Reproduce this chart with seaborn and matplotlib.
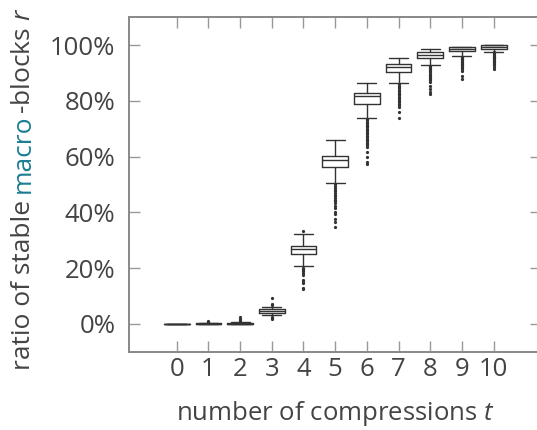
import matplotlib
matplotlib.use("Agg")
import matplotlib.pyplot as plt
from matplotlib.ticker import PercentFormatter
import seaborn as sns

# number of compressions t
steps = [0, 1, 2, 3, 4, 5, 6, 7, 8, 9, 10]

# box statistics (percent of stable macro-blocks)
medians = [0.0, 0.0, 0.1, 4.6, 26.8, 58.9, 81.6, 92.1, 96.6, 98.7, 99.4]
q1 = [0.0, 0.0, 0.0, 3.9, 25.2, 56.3, 79.0, 90.3, 95.5, 97.8, 98.7]
q3 = [0.0, 0.2, 0.3, 5.3, 28.1, 60.2, 82.8, 93.3, 97.5, 99.2, 99.9]
whislo = [0.0, 0.0, 0.0, 3.0, 20.7, 50.5, 74.0, 86.5, 93.0, 96.1, 97.7]
whishi = [0.0, 0.4, 0.6, 6.2, 32.4, 66.1, 86.5, 95.3, 98.5, 99.5, 100.0]

# outliers
fliers_t0 = []
fliers_t1 = [0.6, 0.8, 1.0]
fliers_t2 = [1.0, 1.4, 1.8, 2.5]
fliers_t3 = [9.2, 7.0, 6.6, 2.3, 2.0, 1.6]
fliers_t4 = [33.3, 20.2, 19.8, 19.3, 18.8, 18.2, 17.5, 15.6, 15.0, 14.5, 12.8, 12.4]
fliers_t5 = [50.0, 49.4, 48.8, 48.2, 47.6, 47.0, 46.4, 45.8, 45.2, 44.6, 44.0, 43.4,
             42.4, 41.6, 40.2, 39.4, 37.6, 36.4, 34.8]
fliers_t6 = [73.5, 73.0, 72.5, 72.0, 71.5, 71.0, 70.5, 70.0, 69.5, 69.0, 68.5, 68.0,
             67.5, 67.0, 66.5, 66.0, 65.5, 65.0, 64.5, 64.0, 63.4, 61.6, 59.9, 58.1, 57.2]
fliers_t7 = [86.0, 85.5, 85.0, 84.5, 84.0, 83.5, 83.0, 82.5, 82.0, 81.5, 81.0, 80.5,
             80.0, 79.5, 79.0, 78.5, 77.8, 76.0, 74.0]
fliers_t8 = [92.6, 92.2, 91.8, 91.4, 91.0, 90.6, 90.2, 89.8, 89.4, 89.0, 88.6, 88.2,
             87.8, 87.4, 86.7, 85.5, 84.3, 83.1, 82.3]
fliers_t9 = [95.8, 95.5, 95.2, 94.9, 94.6, 94.3, 94.0, 93.7, 93.4, 93.1, 92.8, 92.5,
             92.2, 91.9, 91.5, 90.9, 89.1, 87.7]
fliers_t10 = [97.4, 97.1, 96.8, 96.5, 96.2, 95.9, 95.6, 95.3, 95.0, 94.7, 94.4, 94.1,
              93.8, 93.4, 93.0, 92.2, 91.3]
fliers = [fliers_t0, fliers_t1, fliers_t2, fliers_t3, fliers_t4, fliers_t5,
          fliers_t6, fliers_t7, fliers_t8, fliers_t9, fliers_t10]

ink = "#333333"
grey = "#444444"
teal = "#1b7d93"

sns.set_style("ticks")
plt.rcParams['font.family'] = ['Open Sans', 'DejaVu Sans']
plt.rcParams['mathtext.fontset'] = 'custom'
plt.rcParams['mathtext.rm'] = 'Open Sans'
plt.rcParams['mathtext.it'] = 'Open Sans:italic'

fig = plt.figure(figsize=(5.37, 4.3), dpi=100)
ax = fig.add_axes([0.2408, 0.1821, 0.7667, 0.7777])

stats = []
for i, t in enumerate(steps):
    stats.append(dict(label=str(t), med=medians[i], q1=q1[i], q3=q3[i],
                      whislo=whislo[i], whishi=whishi[i], fliers=fliers[i]))

ax.bxp(stats, positions=steps, widths=0.82, capwidths=0.6,
       boxprops=dict(color=ink, linewidth=1),
       whiskerprops=dict(color=ink, linewidth=1),
       capprops=dict(color=ink, linewidth=1),
       medianprops=dict(color=ink, linewidth=1),
       flierprops=dict(marker='o', markersize=1.3, markerfacecolor=ink,
                       markeredgecolor=ink, linestyle='none'))

ax.set_xlim(-1.5, 11.5)
ax.set_ylim(-10, 110)
ax.set_xticks(steps)
ax.set_xticklabels([str(t) for t in steps])
ax.set_yticks([0, 20, 40, 60, 80, 100])
ax.yaxis.set_major_formatter(PercentFormatter(100, decimals=0))

for s in ax.spines.values():
    s.set_color("#888888")
    s.set_linewidth(1.4)
ax.tick_params(axis='both', direction='in', length=8, width=1, color="#999999",
               labelsize=18.5, labelcolor=grey, top=True, right=True)
ax.tick_params(axis='y', pad=10)
ax.tick_params(axis='x', pad=4)

ax.set_xlabel("number of compressions $t$", fontsize=18.5, color=grey, labelpad=12)

# y label in pieces so that "macro" can carry its own colour
ylab_size = 19
pieces = [("ratio of stable", grey), ("macro", teal), ("-blocks $r$", grey)]
fig.canvas.draw()
renderer = fig.canvas.get_renderer()
gap_a = fig.text(0, 0, "a a", fontsize=ylab_size)
gap_b = fig.text(0, 0, "aa", fontsize=ylab_size)
space = gap_a.get_window_extent(renderer).width - gap_b.get_window_extent(renderer).width
gap_a.remove()
gap_b.remove()

texts = []
for s, c in pieces:
    texts.append(fig.text(0.043, 0, s, rotation=90, fontsize=ylab_size, color=c,
                          ha='center', va='bottom'))
lengths = [t.get_window_extent(renderer).height for t in texts]
total = sum(lengths) + space
# keep the whole label inside the figure, ending near the reference's bottom
y = min(60.0, fig.bbox.height - 4 - total)
for i, t in enumerate(texts):
    t.set_position((0.043, y / fig.bbox.height))
    y += lengths[i]
    if i == 0:
        y += space

fig.savefig("out.png", dpi=100)
